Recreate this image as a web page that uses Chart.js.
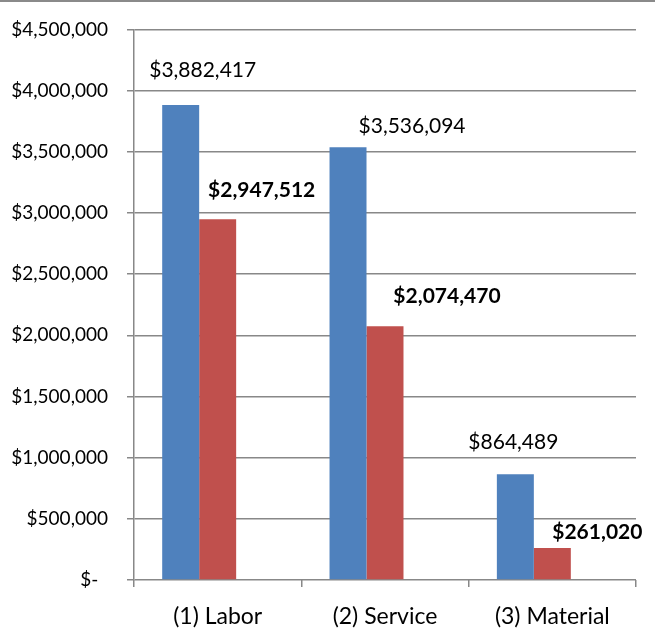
<!DOCTYPE html>
<html>
<head>
    <title>Cost Comparison</title>
    <script src="https://cdn.jsdelivr.net/npm/chart.js"></script>
    <style>
        html, body { margin: 0; padding: 0; background: #fff; overflow: hidden; }
        #frame { position: absolute; left: 0; top: 0; width: 655px; height: 2px; background: #8a8a8a; z-index: 2; }
        #wrap { position: absolute; left: 0; top: -1px; width: 655px; height: 635px; }
    </style>
</head>
<body>
    <div id="frame"></div>
    <div id="wrap">
        <canvas id="cost-chart"></canvas>
    </div>

    <script>
        'use strict';

        const categories = ['(1) Labor', '(2) Service', '(3) Material'];
        const blueValues = [3882417, 3536094, 864489];
        const redValues = [2947512, 2074470, 261020];
        // the source chart keeps a third, blank series slot after the two bars
        const blankValues = [null, null, null];

        // label placement relative to each bar top (dx, dy), per dataset
        const labelOffsets = [
            [[22, -35], [64, -21], [-2, -32]],
            [[44, -29], [62, -30], [45, -16]]
        ];

        const blueColor = '#4F81BD';
        const redColor = '#C0504D';
        const gridColor = '#888888';
        const fontFamily = "Lato, 'Liberation Sans', sans-serif";

        function money(v) {
            if (v === 0) return '$-  ';
            return '$' + Math.round(v).toLocaleString('en-US');
        }

        const barLabels = {
            id: 'barLabels',
            afterDatasetsDraw(chart) {
                const ctx = chart.ctx;
                ctx.save();
                ctx.textAlign = 'center';
                ctx.textBaseline = 'middle';
                ctx.fillStyle = '#000';
                labelOffsets.forEach(function (offsets, di) {
                    const ds = chart.data.datasets[di];
                    const meta = chart.getDatasetMeta(di);
                    ctx.font = (di === 1 ? 'bold ' : '') + '21px ' + fontFamily;
                    meta.data.forEach(function (bar, i) {
                        const off = offsets[i];
                        ctx.fillText(money(ds.data[i]), bar.x + off[0], bar.y + off[1]);
                    });
                });
                ctx.restore();
            }
        };

        const barOpts = { categoryPercentage: 0.663, barPercentage: 1.0 };

        const ctx = document.getElementById('cost-chart').getContext('2d');
        new Chart(ctx, {
            type: 'bar',
            data: {
                labels: categories,
                datasets: [{
                    label: 'Blue',
                    data: blueValues,
                    backgroundColor: blueColor,
                    ...barOpts
                }, {
                    label: 'Red',
                    data: redValues,
                    backgroundColor: redColor,
                    ...barOpts
                }, {
                    label: 'Blank',
                    data: blankValues,
                    backgroundColor: 'rgba(0,0,0,0)',
                    ...barOpts
                }]
            },
            options: {
                responsive: true,
                maintainAspectRatio: false,
                animation: false,
                layout: {
                    padding: { left: 0, right: 19, top: 15, bottom: 0 }
                },
                scales: {
                    x: {
                        offset: true,
                        afterFit: function (scale) { scale.height = 54; },
                        grid: {
                            offset: true,
                            drawOnChartArea: false,
                            color: gridColor,
                            lineWidth: 1.5,
                            tickLength: 7
                        },
                        border: { display: false },
                        ticks: {
                            color: '#000',
                            padding: 16,
                            font: { family: fontFamily, size: 23 }
                        }
                    },
                    y: {
                        min: 0,
                        max: 4500000,
                        afterFit: function (scale) { scale.width = 134; },
                        grid: {
                            color: gridColor,
                            lineWidth: 1.5,
                            tickLength: 7
                        },
                        border: { color: gridColor, width: 1.5 },
                        ticks: {
                            stepSize: 500000,
                            color: '#000',
                            padding: 19,
                            font: { family: fontFamily, size: 19 },
                            callback: function (value) { return money(value); }
                        }
                    }
                },
                plugins: {
                    legend: { display: false },
                    tooltip: { enabled: false }
                }
            },
            plugins: [barLabels]
        });
    </script>
</body>
</html>
